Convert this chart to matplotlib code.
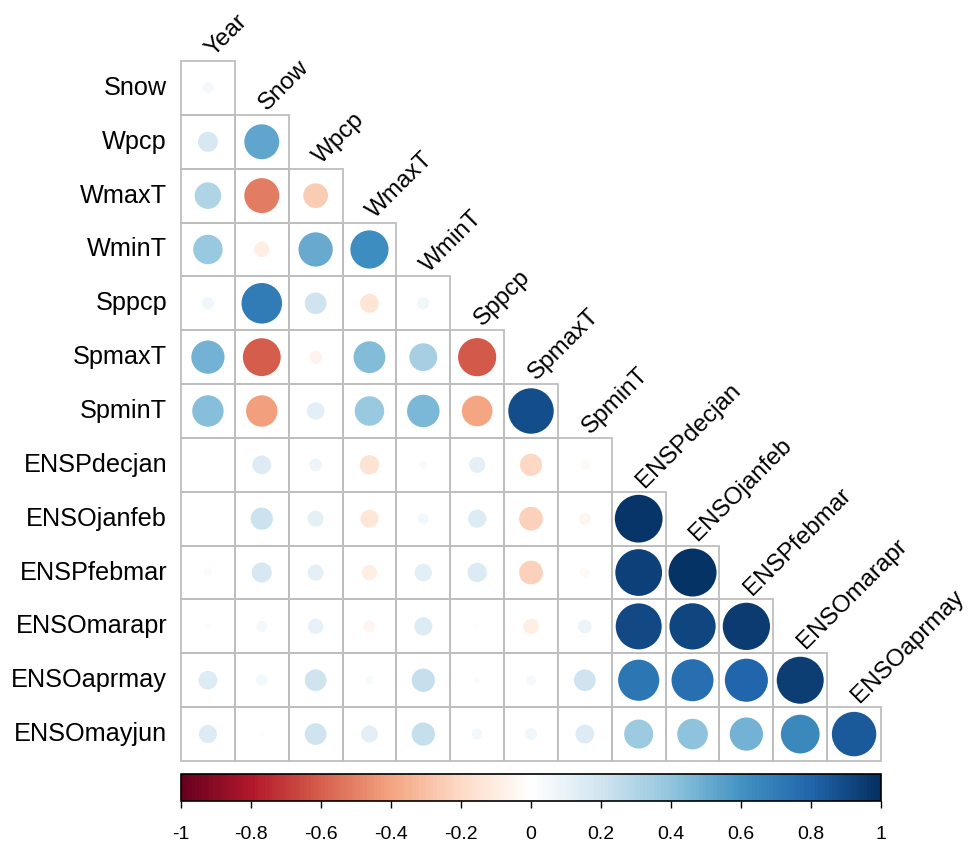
import numpy as np
import matplotlib
matplotlib.use("Agg")
import matplotlib.pyplot as plt
from matplotlib.colors import LinearSegmentedColormap, Normalize
from matplotlib.patches import Rectangle, Circle
from matplotlib.cm import ScalarMappable

plt.rcParams['font.family'] = ['Liberation Sans', 'DejaVu Sans']

# variable names
row_names = ['Snow', 'Wpcp', 'WmaxT', 'WminT', 'Sppcp', 'SpmaxT', 'SpminT',
             'ENSPdecjan', 'ENSOjanfeb', 'ENSPfebmar', 'ENSOmarapr',
             'ENSOaprmay', 'ENSOmayjun']
col_names = ['Year', 'Snow', 'Wpcp', 'WmaxT', 'WminT', 'Sppcp', 'SpmaxT',
             'SpminT', 'ENSPdecjan', 'ENSOjanfeb', 'ENSPfebmar', 'ENSOmarapr',
             'ENSOaprmay']

# lower triangle correlations, one list per row
r_snow = [0.05]
r_wpcp = [0.17, 0.52]
r_wmaxt = [0.30, -0.52, -0.26]
r_wmint = [0.37, -0.10, 0.50, 0.62]
r_sppcp = [0.06, 0.70, 0.20, -0.15, 0.06]
r_spmaxt = [0.47, -0.61, -0.07, 0.43, 0.33, -0.62]
r_spmint = [0.42, -0.42, 0.13, 0.37, 0.45, -0.40, 0.88]
r_decjan = [0.01, 0.15, 0.07, -0.16, 0.03, 0.11, -0.21, -0.04]
r_janfeb = [0.005, 0.21, 0.11, -0.14, 0.05, 0.14, -0.24, -0.06, 0.97]
r_febmar = [-0.03, 0.17, 0.11, -0.10, 0.13, 0.16, -0.24, -0.04, 0.93, 0.98]
r_marapr = [0.02, 0.05, 0.10, -0.06, 0.14, 0.01, -0.10, 0.08, 0.90, 0.91, 0.95]
r_aprmay = [0.15, 0.05, 0.20, 0.03, 0.23, 0.02, 0.04, 0.20, 0.72, 0.75, 0.79, 0.94]
r_mayjun = [0.14, 0.01, 0.20, 0.12, 0.23, 0.05, 0.06, 0.15, 0.36, 0.40, 0.47, 0.64, 0.84]

corr_rows = [r_snow, r_wpcp, r_wmaxt, r_wmint, r_sppcp, r_spmaxt, r_spmint,
             r_decjan, r_janfeb, r_febmar, r_marapr, r_aprmay, r_mayjun]

# corrplot RdBu palette
cmap = LinearSegmentedColormap.from_list(
    'rdbu', ["#67001F", "#B2182B", "#D6604D", "#F4A582", "#FDDBC7", "#FFFFFF",
             "#D1E5F0", "#92C5DE", "#4393C3", "#2166AC", "#053061"], N=200)
norm = Normalize(-1, 1)

W, H = 974, 846
fig = plt.figure(figsize=(W / 100, H / 100), dpi=100)
n = len(row_names)
ax = fig.add_axes([181 / W, 1 - 761 / H, 700 / W, 700 / H])
ax.set_xlim(0, n)
ax.set_ylim(n, 0)
ax.axis('off')

for i, vals in enumerate(corr_rows):
    for j, v in enumerate(vals):
        ax.add_patch(Rectangle((j, i), 1, 1, fill=False, ec='#BEBEBE',
                               lw=1.3, clip_on=False))
        ax.add_patch(Circle((j + 0.5, i + 0.5), 0.45 * np.sqrt(abs(v)),
                            fc=cmap(norm(v)), ec='none'))
    # row label
    ax.text(-0.26, i + 0.5, row_names[i], ha='right', va='center',
            fontsize=18.2, clip_on=False)

# column labels, rotated
for j, name in enumerate(col_names):
    ax.text(j + 0.6, j - 0.07, name, rotation=45, rotation_mode='anchor',
            ha='left', va='baseline', fontsize=17.5, clip_on=False)

# colour legend
cax = fig.add_axes([181 / W, 1 - 801 / H, 700 / W, 27 / H])
sm = ScalarMappable(norm=norm, cmap=cmap)
cb = fig.colorbar(sm, cax=cax, orientation='horizontal')
ticks = np.round(np.arange(-1, 1.01, 0.2), 1) + 0.0
cb.set_ticks(ticks)
cb.set_ticklabels(['%g' % (t if abs(t) > 1e-9 else 0) for t in ticks])
cb.outline.set_linewidth(1.2)
cax.tick_params(direction='out', length=5, width=1, labelsize=14, pad=13)

fig.savefig('out.png', dpi=100)
